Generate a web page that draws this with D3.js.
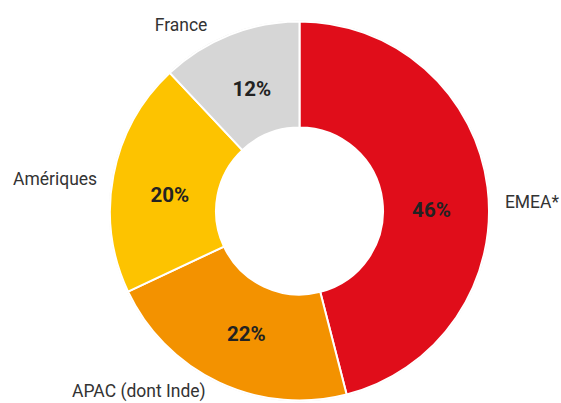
<!DOCTYPE html>
<html><head><meta charset="utf-8">
<script src="https://cdn.jsdelivr.net/npm/d3@7"></script>
<style>html,body{margin:0;padding:0;background:#fff;}svg{display:block;}</style>
</head><body>
<svg id="chart" width="561" height="403"></svg>
<script>
const categories = ["EMEA*", "APAC (dont Inde)", "Amériques", "France"];
const values = [46, 22, 20, 12];
const valueLabels = ["46%", "22%", "20%", "12%"];
const colors = ["#E00D1A", "#F39200", "#FDC300", "#D6D6D6"];

const W = 561, H = 403;
const cx = 299.5, cy = 211, outerR = 189.5, innerR = 83.5;
const svg = d3.select("#chart");
const g = svg.append("g").attr("transform", `translate(${cx},${cy})`);

const data = categories.map((c, i) => ({cat: c, value: values[i], label: valueLabels[i], color: colors[i]}));
const pie = d3.pie().value(d => d.value).sort(null);
const arcs = pie(data);
const arc = d3.arc().innerRadius(innerR).outerRadius(outerR);
const labelArc = d3.arc().innerRadius(132).outerRadius(132);

// faint outer rim
g.append("circle").attr("r", outerR + 0.5).attr("fill", "none")
  .attr("stroke", "#e4e4e4").attr("stroke-width", 0.8);

g.selectAll("path.slice").data(arcs).join("path")
  .attr("class", "slice")
  .attr("d", arc)
  .attr("fill", d => d.data.color)
  .attr("stroke", "#fff")
  .attr("stroke-width", 2)
  .attr("stroke-linejoin", "round");

// value labels near slice centroids (small layout nudges)
const pctNudge = {"EMEA*": [1, 15], "APAC (dont Inde)": [3, 3], "Amériques": [0, 8], "France": [1, 0]};
g.selectAll("text.pct").data(arcs).join("text")
  .attr("class", "pct")
  .attr("transform", d => {
    const c = labelArc.centroid(d), n = pctNudge[d.data.cat] || [0, 0];
    return `translate(${c[0] + n[0]},${c[1] + n[1]})`;
  })
  .attr("text-anchor", "middle")
  .attr("dy", "0.36em")
  .attr("font-family", "Roboto, 'DejaVu Sans', sans-serif")
  .attr("font-weight", 700)
  .attr("font-size", 20.5)
  .attr("fill", "#222")
  .text(d => d.data.label);

// category labels: polar placement at mid angle, with small nudges
const catR = 204;
const nudge = {"EMEA*": [3, 16], "France": [-17, 3], "Amériques": [-2, 6], "APAC (dont Inde)": [-7, -5]};
g.selectAll("text.cat").data(arcs).join("text")
  .attr("class", "cat")
  .each(function(d) {
    const a = (d.startAngle + d.endAngle) / 2;
    const n = nudge[d.data.cat] || [0, 0];
    const x = catR * Math.sin(a) + n[0];
    const y = -catR * Math.cos(a) + n[1];
    d3.select(this)
      .attr("x", x).attr("y", y)
      .attr("text-anchor", Math.sin(a) >= 0 ? "start" : "end");
  })
  .attr("dy", "0.36em")
  .attr("font-family", "Roboto, 'DejaVu Sans', sans-serif")
  .attr("font-size", 17.5)
  .attr("fill", "#333")
  .text(d => d.data.cat);
</script>
</body></html>
